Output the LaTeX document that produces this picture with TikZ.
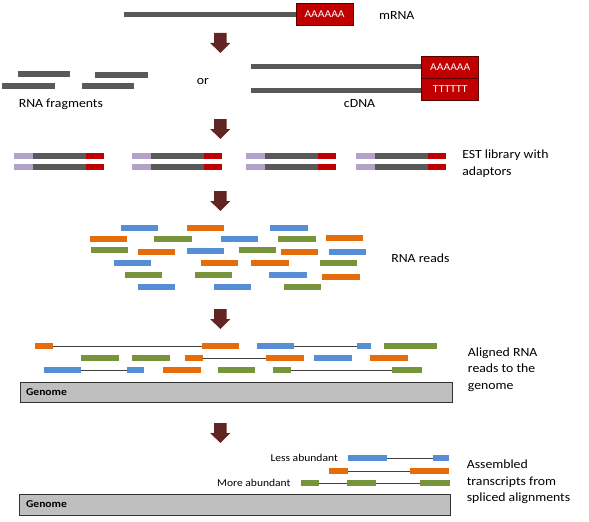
\documentclass[tikz,border=0pt]{standalone}
\usepackage{fontspec}
\setmainfont{Carlito}[FakeStretch=1.1]
\usepackage{tikz}
\usepackage{xcolor}
\usetikzlibrary{
    calc,
    positioning
}
\definecolor{strandgray}{HTML}{595959}
\definecolor{polyred}{HTML}{C00000}
\definecolor{polyedge}{HTML}{5A0000}
\definecolor{adaptpurple}{HTML}{B3A2C7}
\definecolor{readblue}{HTML}{558ED5}
\definecolor{readorange}{HTML}{E46C0A}
\definecolor{readgreen}{HTML}{77933C}
\definecolor{steparrow}{HTML}{632523}
\definecolor{genomefill}{HTML}{BFBFBF}
\tikzset{
    bar/.style={line width=6pt},
    strand/.style={line width=5pt, strandgray},
    intron/.style={line width=0.8pt, black!75},
    polybox/.style={draw=polyedge, line width=0.8pt, fill=polyred, text=white,
        font=\fontsize{10.5}{12}\selectfont, minimum width=57pt, minimum height=22pt, inner sep=0pt},
    caption/.style={font=\fontsize{12.5}{16.5}\selectfont, align=left, inner sep=0pt},
    smallcaption/.style={font=\fontsize{10.5}{12}\selectfont, inner sep=0pt},
    genomebox/.style={draw=black!80, line width=0.8pt, fill=genomefill}
}

\begin{document}
\begin{tikzpicture}[x=1.127pt, y=-1pt]
                        \useasboundingbox (0, 0) rectangle (522.6, 521);

                        % mRNA
                        \draw[strand] (110, 14.5) -- (263, 14.5);
                        \node[polybox] (polyA) at (288, 14.5) {AAAAAA};
                        \node[caption] (mrna) at (352, 15) {mRNA};

                        % fragments or cDNA
                        \draw[strand, line width=6pt]
                        (16, 74) -- (62, 74)
                        (84, 75) -- (131, 75)
                        (2, 86) -- (49, 86)
                        (73, 86) -- (119, 86);
                        \node[caption] (frag) at (54, 104) {RNA fragments};
                        \node[caption] (or) at (180, 82) {or};

                        \draw[strand] (223, 66.5) -- (374, 66.5);
                        \draw[strand] (223, 90) -- (374, 90);
                        \node[polybox] (cdnaA) at (399.5, 67) {AAAAAA};
                        \node[polybox] (cdnaT) at (399.5, 89) {TTTTTT};
                        \node[caption] (cdna) at (319, 104) {cDNA};

                        % step arrows
                        \foreach \yy in {33, 119, 191, 309, 423}
                            \fill[steparrow] (190, \yy) -- ++(11, 0) -- ++(0, 10) -- ++(3.5, 0)
                            -- ++(-9, 10) -- ++(-9, -10) -- ++(3.5, 0) -- cycle;

                        % EST library
                        \foreach \xs in {12, 117, 218, 316}
                            \foreach \yy in {156, 167}
                            {
                                \draw[bar, adaptpurple] (\xs, \yy) -- ++(17, 0);
                                \draw[bar, strandgray] (\xs+17, \yy) -- ++(47, 0);
                                \draw[bar, polyred] (\xs+64, \yy) -- ++(16, 0);
                            }
                        \node[caption, anchor=west] (est) at (410, 163.5) {EST library with\\adaptors};

                        % RNA reads
                        \foreach \xa/\yy/\cc in {
                            107/228/readblue, 166/228/readorange, 240/228/readblue,
                            80/239/readorange, 137/239/readgreen, 196/239/readblue, 247/239/readgreen, 289/238/readorange,
                            81/250/readgreen, 122/252/readorange, 166/251/readblue, 212/250/readgreen, 249/252/readorange, 292/252/readblue,
                            101/263/readblue, 178/263/readorange, 223/263/readorange, 284/263/readgreen,
                            111/275/readgreen, 173/275/readgreen, 239/275/readblue, 286/277/readorange,
                            122/287/readblue, 190/287/readblue, 252/287/readgreen}
                            \draw[bar, \cc] (\xa, \yy) -- ++(33, 0);
                        \node[caption] (reads) at (373, 258) {RNA reads};

                        % aligned reads
                        \draw[intron]
                        (47, 346) -- (179, 346)
                        (261, 346) -- (317, 346)
                        (180, 358) -- (236, 358)
                        (72, 370) -- (113, 370)
                        (258, 370) -- (348, 370);
                        \foreach \xa/\xb/\yy/\cc in {
                            31/47/346/readorange, 179/212/346/readorange, 228/261/346/readblue, 317/329/346/readblue, 341/388/346/readgreen,
                            72/106/358/readgreen, 117/151/358/readgreen, 164/180/358/readorange, 236/270/358/readorange, 279/312/358/readblue, 328/362/358/readorange,
                            39/72/370/readblue, 113/128/370/readblue, 145/178/370/readorange, 193/226/370/readgreen, 242/258/370/readgreen, 348/374/370/readgreen}
                            \draw[bar, \cc] (\xa, \yy) -- (\xb, \yy);
                        \draw[genomebox] (18, 382) rectangle (401, 402);
                        \node[smallcaption, anchor=west, font=\fontsize{10.5}{12}\selectfont\bfseries] (genomeA) at (23, 392) {Genome};
                        \node[caption, anchor=west] (aligned) at (415, 369.5) {Aligned RNA\\reads to the\\genome};

                        % assembled transcripts
                        \draw[intron]
                        (343, 458) -- (384, 458)
                        (309, 471) -- (364, 471)
                        (283, 483) -- (373, 483);
                        \foreach \xa/\xb/\yy/\cc in {
                            309/343/458/readblue, 384/398/458/readblue,
                            292/309/471/readorange, 364/398/471/readorange,
                            267/283/483/readgreen, 308/334/483/readgreen, 373/399/483/readgreen}
                            \draw[bar, \cc] (\xa, \yy) -- (\xb, \yy);
                        \node[smallcaption, anchor=east] (less) at (300, 458) {Less abundant};
                        \node[smallcaption, anchor=east] (more) at (258, 483) {More abundant};
                        \draw[genomebox] (17, 494) rectangle (400, 515);
                        \node[smallcaption, anchor=west, font=\fontsize{10.5}{12}\selectfont\bfseries] (genomeB) at (23, 504.5) {Genome};
                        \node[caption, anchor=west] (assembled) at (414, 482) {Assembled\\transcripts from\\spliced alignments};
                    \end{tikzpicture}
\end{document}
